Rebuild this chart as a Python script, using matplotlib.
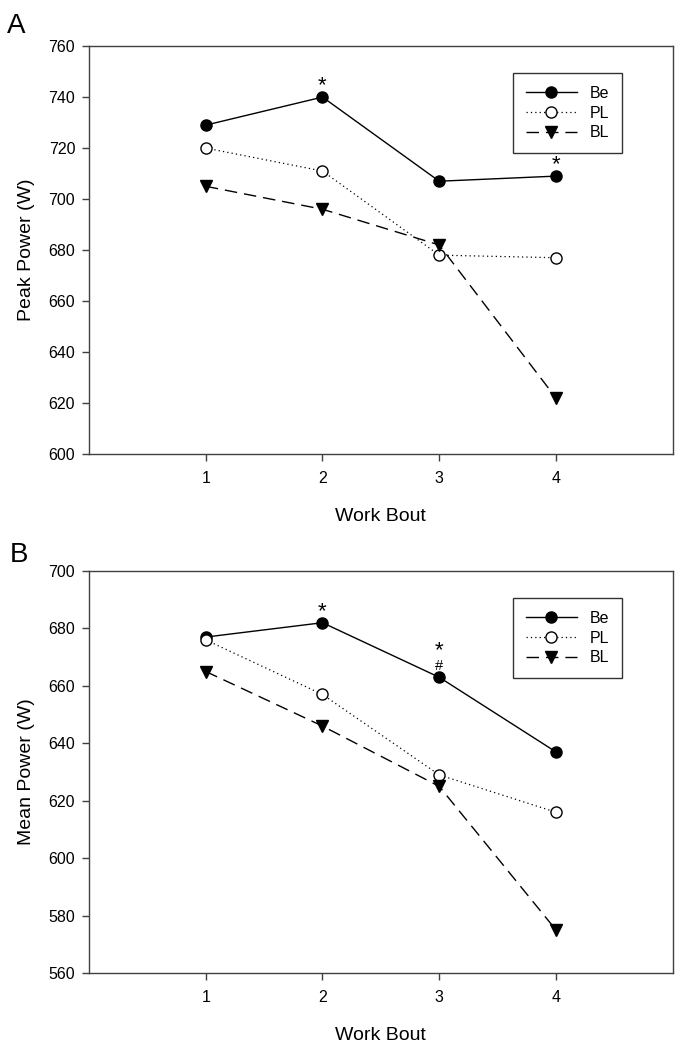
import matplotlib
matplotlib.use("Agg")
import matplotlib.pyplot as plt

plt.rcParams['font.family'] = ['Liberation Sans', 'DejaVu Sans']

bouts = [1, 2, 3, 4]
bout_ticks = ["1", "2", "3", "4"]

# panel A - peak power
peak_be = [729, 740, 707, 709]
peak_pl = [720, 711, 678, 677]
peak_bl = [705, 696, 682, 622]
peak_ticks = [600, 620, 640, 660, 680, 700, 720, 740, 760]

# panel B - mean power
mean_be = [677, 682, 663, 637]
mean_pl = [676, 657, 629, 616]
mean_bl = [665, 646, 625, 575]
mean_ticks = [560, 580, 600, 620, 640, 660, 680, 700]

# significance marks on the Be series: (bout index, text, offset in points)
peak_marks = [(1, "*", 4), (3, "*", 4)]
mean_marks = [(1, "*", 4), (2, "*", 15)]
mean_hash = [(2, "#", 5.5)]

axis_col = "#404040"


def draw_panel(ax, be, pl, bl, yticks, ylabel, legend_top):
    ax.plot(bouts, be, color="black", lw=1, marker="o", ms=8,
            mfc="black", mec="black", label="Be", zorder=3)
    ax.plot(bouts, pl, color="black", lw=0.9, ls=(0, (1, 2.5)), marker="o", ms=8,
            mfc="white", mec="black", label="PL", zorder=3)
    ax.plot(bouts, bl, color="black", lw=1, ls=(0, (9, 5)), marker="v", ms=8,
            mfc="black", mec="black", label="BL", zorder=3)
    ax.set_xlim(0, 5)
    ax.set_ylim(yticks[0], yticks[-1])
    ax.set_xticks(bouts)
    ax.set_xticklabels(bout_ticks)
    ax.set_yticks(yticks)
    ax.tick_params(direction="out", length=5, width=1, labelsize=11.5, color=axis_col)
    ax.tick_params(axis="x", pad=7)
    ax.tick_params(axis="y", pad=5)
    for s in ax.spines.values():
        s.set_linewidth(1)
        s.set_edgecolor(axis_col)
    ax.set_xlabel("Work Bout", fontsize=14, labelpad=16)
    ax.set_ylabel(ylabel, fontsize=14, labelpad=10)
    leg = ax.legend(loc="upper left", bbox_to_anchor=(0.726, legend_top),
                    fontsize=11.5, frameon=True, fancybox=False, handlelength=3.2,
                    borderpad=0.8, labelspacing=0.3, handletextpad=0.8,
                    borderaxespad=0)
    leg.get_frame().set_edgecolor("black")
    leg.get_frame().set_linewidth(1)


fig = plt.figure(figsize=(6.85, 10.52), dpi=100)
ax_a = fig.add_axes([0.130, 0.5684, 0.852, 0.3878])
ax_b = fig.add_axes([0.130, 0.0751, 0.852, 0.3821])

draw_panel(ax_a, peak_be, peak_pl, peak_bl, peak_ticks, "Peak Power (W)", 0.934)
draw_panel(ax_b, mean_be, mean_pl, mean_bl, mean_ticks, "Mean Power (W)", 0.933)

fig.text(7 / 685, 1 - 33 / 1052, "A", fontsize=20, ha="left", va="baseline")
fig.text(10 / 685, 1 - 562 / 1052, "B", fontsize=20, ha="left", va="baseline")

for i, t, off in peak_marks:
    ax_a.annotate(t, (bouts[i], peak_be[i]), xytext=(0, off), textcoords="offset points",
                  ha="center", va="baseline", fontsize=16)
for i, t, off in mean_marks:
    ax_b.annotate(t, (bouts[i], mean_be[i]), xytext=(0, off), textcoords="offset points",
                  ha="center", va="baseline", fontsize=16)
for i, t, off in mean_hash:
    ax_b.annotate(t, (bouts[i], mean_be[i]), xytext=(0, off), textcoords="offset points",
                  ha="center", va="baseline", fontsize=10.5)

fig.savefig("out.png", dpi=100)
